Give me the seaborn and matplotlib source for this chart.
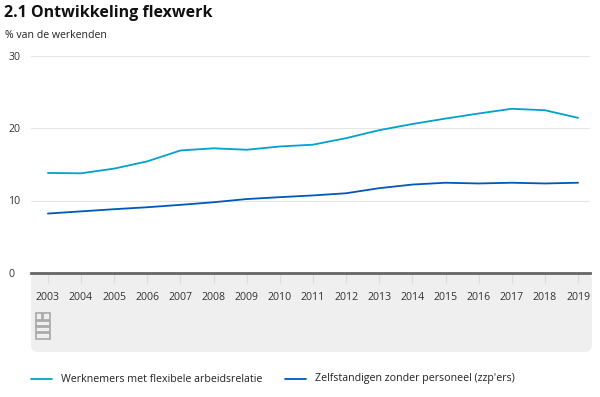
import matplotlib
matplotlib.use("Agg")
import matplotlib.pyplot as plt
from matplotlib.patches import FancyBboxPatch, Rectangle
import pandas as pd
import seaborn as sns

# Data
years = list(range(2003, 2020))
flex = [13.8, 13.75, 14.4, 15.4, 16.9, 17.2, 17.0, 17.45, 17.7, 18.6,
        19.7, 20.55, 21.3, 22.0, 22.65, 22.45, 21.4]
zzp = [8.2, 8.5, 8.8, 9.07, 9.4, 9.76, 10.2, 10.46, 10.7, 11.0,
       11.7, 12.2, 12.45, 12.35, 12.45, 12.35, 12.45]
series_names = ["Werknemers met flexibele arbeidsrelatie",
                "Zelfstandigen zonder personeel (zzp'ers)"]
colors = ["#00a1cd", "#0058b8"]
yticks = [0, 10, 20, 30]

df = pd.DataFrame({"jaar": years * 2,
                   "waarde": flex + zzp,
                   "reeks": [series_names[0]] * len(years) + [series_names[1]] * len(years)})

sns.set_style("white", {"xtick.bottom": True})
plt.rcParams["font.family"] = ["Open Sans", "DejaVu Sans"]

W, H = 600, 397
fig = plt.figure(figsize=(W / 100, H / 100), dpi=100)


def fx(px):
    return px / W


def fy(py):
    return 1 - py / H


# gray band behind x axis labels
band = FancyBboxPatch((fx(31), fy(352)), fx(592) - fx(31), fy(273) - fy(352),
                      boxstyle="round,pad=0,rounding_size=0.012",
                      transform=fig.transFigure, facecolor="#efefef",
                      edgecolor="none", zorder=-5, mutation_aspect=W / H)
fig.patches.append(band)

ax = fig.add_axes([fx(31), fy(273), fx(590) - fx(31), fy(55.5) - fy(273)])
ax.patch.set_alpha(0)

sns.lineplot(data=df, x="jaar", y="waarde", hue="reeks", palette=colors,
             linewidth=1.3, ax=ax, legend=False)

ax.set_xlim(2002.49, 2019.36)
ax.set_ylim(0, 30)
ax.set_yticks(yticks)
ax.set_xticks(years)
ax.set_yticklabels([str(t) for t in yticks], fontsize=7.6, color="#333333")
ax.set_xticklabels([str(y) for y in years], fontsize=7.6, color="#333333")
ax.tick_params(axis="y", length=0, pad=16.5)
ax.tick_params(axis="x", bottom=True, length=7, width=0.8, color="#dcdcdc",
               pad=7, direction="out")
for lab in ax.get_yticklabels():
    lab.set_horizontalalignment("left")
ax.grid(axis="y", color="#e6e6e6", linewidth=0.8)
for s in ["top", "right", "left"]:
    ax.spines[s].set_visible(False)
ax.spines["bottom"].set_color("#666666")
ax.spines["bottom"].set_linewidth(2)
ax.set_xlabel("")
ax.set_ylabel("")

# titles
fig.text(fx(4), fy(13), "2.1 Ontwikkeling flexwerk", fontsize=11.5,
         fontweight="bold", color="#111111", va="center", ha="left")
fig.text(fx(5), fy(35), "% van de werkenden", fontsize=7.6,
         color="#222222", va="center", ha="left")

# simple CBS logo outline
logo_color = "#a8a8a8"
for (x0, y0, w, h) in [(36, 313, 6, 7), (43, 313, 7, 7), (36, 321, 14, 5),
                       (36, 327, 14, 5), (36, 333, 14, 6)]:
    fig.patches.append(Rectangle((fx(x0), fy(y0 + h)), fx(w), h / H,
                                 transform=fig.transFigure, fill=False,
                                 edgecolor=logo_color, linewidth=1.2))

# legend
for name, c, x0 in zip(series_names, colors, [31, 285]):
    fig.lines.append(plt.Line2D([fx(x0), fx(x0 + 21)], [fy(379), fy(379)],
                                transform=fig.transFigure, color=c,
                                linewidth=1.3))
    fig.text(fx(x0 + 30), fy(379), name, fontsize=7.7, color="#222222",
             va="center", ha="left")

fig.savefig("out.png", dpi=100)
